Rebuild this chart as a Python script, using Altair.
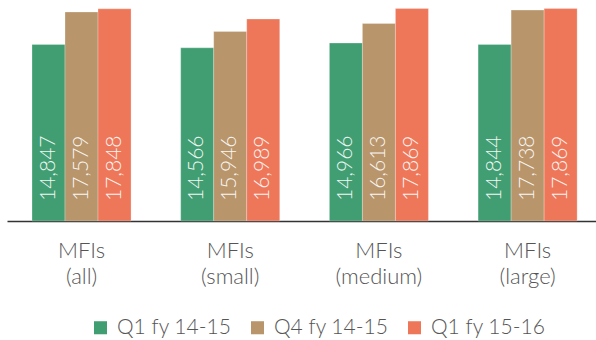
import altair as alt
import pandas as pd

# MFI average loan amounts by segment and quarter
groups = ["MFIs\n(all)", "MFIs\n(small)", "MFIs\n(medium)", "MFIs\n(large)"]
periods = ["Q1 fy 14-15", "Q4 fy 14-15", "Q1 fy 15-16"]
q1_fy1415 = [14847, 14566, 14966, 14844]
q4_fy1415 = [17579, 15946, 16613, 17738]
q1_fy1516 = [17848, 16989, 17869, 17869]
colors = ["#409E72", "#B8956B", "#EE775A"]

rows = []
for series, vals in zip(periods, [q1_fy1415, q4_fy1415, q1_fy1516]):
    for g, v in zip(groups, vals):
        rows.append({"group": g, "period": series, "value": v})
df = pd.DataFrame(rows)

FONT = "Lato"

x = alt.X(
    "group:N",
    sort=groups,
    scale=alt.Scale(paddingInner=0.334, paddingOuter=0.1475, align=0.57),
    axis=alt.Axis(
        title=None,
        ticks=False,
        domainColor="#333333",
        domainWidth=1.5,
        labelExpr="split(datum.label, '\\n')",
        labelFont=FONT,
        labelFontWeight=300,
        labelFontSize=22,
        labelLineHeight=26,
        labelColor="#555555",
        labelPadding=19,
        labelAngle=0,
    ),
)
y = alt.Y(
    "value:Q",
    scale=alt.Scale(domain=[0, 18000], nice=False),
    axis=None,
)
xoff = alt.XOffset(
    "period:N",
    sort=periods,
    scale=alt.Scale(paddingInner=0, paddingOuter=0),
)
color = alt.Color(
    "period:N",
    sort=periods,
    scale=alt.Scale(domain=periods, range=colors),
    legend=alt.Legend(
        title=None,
        orient="none",
        direction="horizontal",
        legendX=83,
        legendY=310,
        symbolType="square",
        symbolSize=170,
        symbolStrokeWidth=0,
        symbolOpacity=1,
        labelFont=FONT,
        labelFontWeight=300,
        labelFontSize=21,
        labelColor="#555555",
        labelOffset=6,
        columnPadding=15,
        padding=0,
    ),
)

bars = alt.Chart(df).mark_bar(
    stroke="white", strokeOpacity=0.25, strokeWidth=1
).encode(x=x, y=y, xOffset=xoff, color=color)

labels = alt.Chart(df).mark_text(
    angle=270,
    align="left",
    baseline="middle",
    dx=20,
    font=FONT,
    fontWeight=300,
    fontSize=21,
    color="white",
    opacity=0.92,
).encode(
    x=alt.X("group:N", sort=groups),
    xOffset=alt.XOffset("period:N", sort=periods),
    y=alt.datum(0),
    text=alt.Text("value:Q", format=","),
)

chart = (
    alt.layer(bars, labels)
    .properties(
        width=589,
        height=214,
        padding={"left": 7, "top": 7, "right": 0, "bottom": 0},
        background="white",
    )
    .configure_view(stroke=None)
)

chart.save("out.html", embed_options={"renderer": "svg", "actions": False})
